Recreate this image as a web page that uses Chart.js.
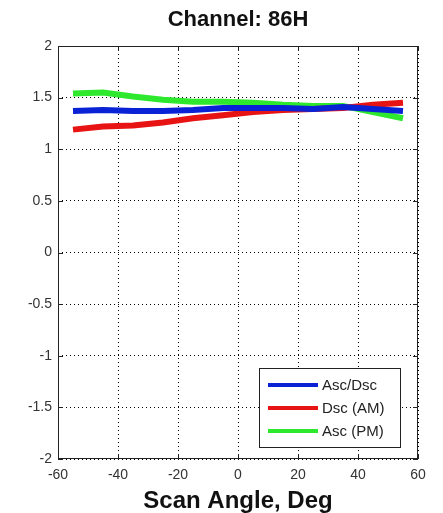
<!DOCTYPE html>
<html>
<head>
<meta charset="utf-8">
<script src="https://cdn.jsdelivr.net/npm/chart.js@4"></script>
<style>
  html, body { margin: 0; padding: 0; background: #fff; }
  #wrap { width: 443px; height: 513px; position: relative; }
</style>
</head>
<body>
<div id="wrap"><canvas id="scanChart"></canvas></div>
<script>
// Scan angle (deg) and per-series values
const angles = [-55, -45, -35, -25, -15, -5, 5, 15, 25, 35, 45, 55];
const ascDsc = [1.37, 1.38, 1.37, 1.37, 1.38, 1.40, 1.40, 1.40, 1.39, 1.41, 1.39, 1.37];
const dscAM  = [1.19, 1.22, 1.23, 1.26, 1.30, 1.33, 1.36, 1.38, 1.39, 1.40, 1.43, 1.45];
const ascPM  = [1.54, 1.55, 1.51, 1.48, 1.46, 1.46, 1.45, 1.43, 1.42, 1.42, 1.36, 1.30];

const xTicks = [-60, -40, -20, 0, 20, 40, 60];
const yTicks = [-2, -1.5, -1, -0.5, 0, 0.5, 1, 1.5, 2];

const FONT = 'Arial, "Liberation Sans", sans-serif';
const toPoints = ys => angles.map((a, i) => ({ x: a, y: ys[i] }));

// MATLAB-style frame, inward tick marks and legend box
const matlabFrame = {
    id: 'matlabFrame',
    afterDatasetsDraw(chart) {
        const { ctx, chartArea: a, scales: { x, y } } = chart;
        ctx.save();
        ctx.strokeStyle = '#222';
        ctx.lineWidth = 1;
        ctx.setLineDash([]);
        ctx.strokeRect(a.left + 0.5, a.top + 0.5, a.right - a.left - 1, a.bottom - a.top - 1);
        ctx.beginPath();
        xTicks.forEach(v => {
            const px = Math.round(x.getPixelForValue(v)) + 0.5;
            ctx.moveTo(px, a.bottom); ctx.lineTo(px, a.bottom - 5);
            ctx.moveTo(px, a.top); ctx.lineTo(px, a.top + 5);
        });
        yTicks.forEach(v => {
            const py = Math.round(y.getPixelForValue(v)) + 0.5;
            ctx.moveTo(a.left, py); ctx.lineTo(a.left + 5, py);
            ctx.moveTo(a.right, py); ctx.lineTo(a.right - 5, py);
        });
        ctx.stroke();

        // legend
        const bx = 259, by = 368, bw = 141, bh = 79;
        ctx.fillStyle = '#fff';
        ctx.fillRect(bx, by, bw, bh);
        ctx.strokeStyle = '#222';
        ctx.strokeRect(bx + 0.5, by + 0.5, bw, bh);
        ctx.font = '15px ' + FONT;
        ctx.textBaseline = 'middle';
        chart.data.datasets.forEach((ds, i) => {
            const ry = by + 17 + i * 23;
            ctx.strokeStyle = ds.borderColor;
            ctx.lineWidth = 4;
            ctx.beginPath();
            ctx.moveTo(bx + 9, ry); ctx.lineTo(bx + 59, ry);
            ctx.stroke();
            ctx.fillStyle = '#222';
            ctx.fillText(ds.label, bx + 63, ry + 1);
        });
        ctx.restore();
    }
};

new Chart(document.getElementById('scanChart'), {
    type: 'line',
    data: {
        datasets: [
            { label: 'Asc/Dsc', data: toPoints(ascDsc), borderColor: '#0a22d6' },
            { label: 'Dsc (AM)', data: toPoints(dscAM), borderColor: '#e81414' },
            { label: 'Asc (PM)', data: toPoints(ascPM), borderColor: '#2ee82e' }
        ]
    },
    options: {
        responsive: true,
        maintainAspectRatio: false,
        animation: false,
        layout: { padding: { left: 0, right: 25, top: 0, bottom: 0 } },
        elements: {
            line: { borderWidth: 6, tension: 0, borderCapStyle: 'butt' },
            point: { radius: 0 }
        },
        plugins: {
            legend: { display: false },
            tooltip: { enabled: false },
            title: {
                display: true,
                text: 'Channel: 86H',
                fullSize: false,
                color: '#111',
                font: { family: FONT, size: 22, weight: 'bold', lineHeight: 1.2 },
                padding: { top: 7, bottom: 12.6 }
            }
        },
        scales: {
            x: {
                type: 'linear',
                min: -60, max: 60,
                afterFit: s => { s.height = 54; },
                afterBuildTicks: s => { s.ticks = xTicks.map(v => ({ value: v })); },
                grid: { color: '#000', lineWidth: 1, drawTicks: false },
                border: { display: false, dash: [1, 3] },
                ticks: {
                    padding: 8,
                    color: '#333',
                    maxRotation: 0,
                    font: { family: FONT, size: 14 },
                    callback: v => String(v)
                },
                title: {
                    display: true,
                    text: 'Scan Angle, Deg',
                    color: '#111',
                    font: { family: FONT, size: 24, weight: 'bold', lineHeight: 1 },
                    padding: { top: 0, bottom: 0 }
                }
            },
            y: {
                type: 'linear',
                min: -2, max: 2,
                afterFit: s => { s.width = 58; },
                afterBuildTicks: s => { s.ticks = yTicks.map(v => ({ value: v })); },
                grid: { color: '#000', lineWidth: 1, drawTicks: false },
                border: { display: false, dash: [1, 3] },
                ticks: {
                    padding: 6,
                    color: '#333',
                    font: { family: FONT, size: 14 },
                    callback: v => String(v)
                }
            }
        }
    },
    plugins: [matlabFrame]
});
</script>
</body>
</html>
